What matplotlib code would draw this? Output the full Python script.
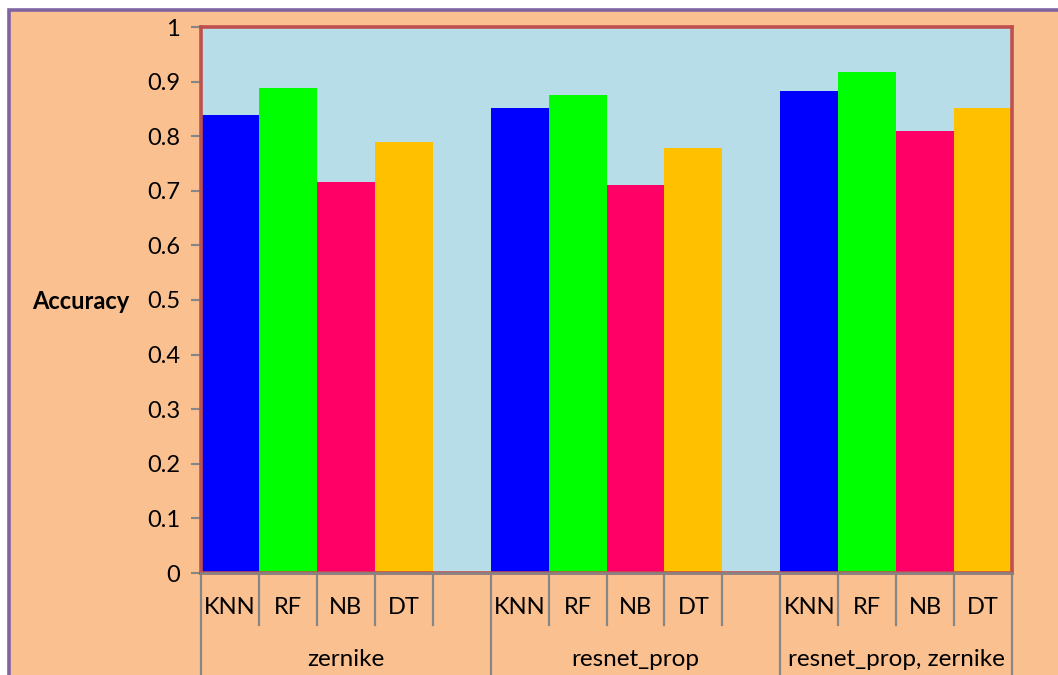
import numpy as np
import matplotlib.pyplot as plt
from matplotlib.patches import Rectangle
import matplotlib.transforms as mtransforms

groups = ['zernike', 'resnet_prop', 'resnet_prop, zernike']
models = ['KNN', 'RF', 'NB', 'DT']
acc_zernike = [0.838, 0.888, 0.717, 0.790]
acc_resnet = [0.851, 0.875, 0.710, 0.778]
acc_both = [0.882, 0.918, 0.809, 0.852]
values = [acc_zernike, acc_resnet, acc_both]

bar_colors = ['#0000FF', '#00FF00', '#FF0066', '#FFC000']
peach = '#FAC090'
plot_bg = '#B7DEE8'
border_red = '#C0504D'
frame_purple = '#8064A2'
axis_gray = '#868686'

plt.rcParams['font.family'] = ['Lato', 'DejaVu Sans']

W, H = 1058, 675
fig = plt.figure(figsize=(W / 100, H / 100), dpi=100)
fig.patch.set_facecolor('white')
fig.patches.append(Rectangle((9 / W, -0.01), 1.05, 1 - 9.5 / H + 0.01, transform=fig.transFigure,
                             facecolor=peach, edgecolor=frame_purple, linewidth=2.6, zorder=-10))

ax = fig.add_axes([201 / W, 102 / H, 811 / W, 546 / H])
ax.set_facecolor(plot_bg)

# slot layout: 5 slots per group (4 bars + gap), last group without gap
slots_per_group = [5, 5, 4]
starts = [0, 5, 10]
for g, vals in enumerate(values):
    x = starts[g] + np.arange(len(models)) + 0.5
    ax.bar(x, vals, width=1.0, color=bar_colors, linewidth=0, zorder=2)

ax.set_xlim(0, 14)
ax.set_ylim(0, 1)
ax.set_yticks(np.arange(0, 1.01, 0.1))
ax.set_yticklabels(['0', '0.1', '0.2', '0.3', '0.4', '0.5', '0.6', '0.7', '0.8', '0.9', '1'])
ax.tick_params(axis='y', direction='out', length=7, width=1.5, color=axis_gray,
               labelsize=17, pad=8)
ax.set_xticks([])

for s in ['left', 'top', 'right', 'bottom']:
    ax.spines[s].set_color(border_red)
    ax.spines[s].set_linewidth(2.6)

ax.text(-0.088, 0.497, 'Accuracy', transform=ax.transAxes, ha='right', va='center',
        fontsize=17, fontweight='bold')

# category axis drawn by hand (multi-level)
tr = mtransforms.blended_transform_factory(ax.transData, ax.transAxes)
ax.plot([0, 14], [0, 0], color=axis_gray, lw=1.8, transform=tr, clip_on=False, zorder=5)
for xb in range(15):
    bottom = -0.19 if xb in (0, 5, 10, 14) else -0.0952
    ax.plot([xb, xb], [0, bottom], color=axis_gray, lw=1.6, transform=tr, clip_on=False)

for g, grp in enumerate(groups):
    for i, m in enumerate(models):
        ax.text(starts[g] + i + 0.5, -0.0623, m, transform=tr, ha='center', va='center', fontsize=17)
    ax.text(starts[g] + slots_per_group[g] / 2, -0.159, grp, transform=tr, ha='center', va='center', fontsize=17.5)

fig.savefig('out.png', dpi=100, facecolor=fig.get_facecolor())
